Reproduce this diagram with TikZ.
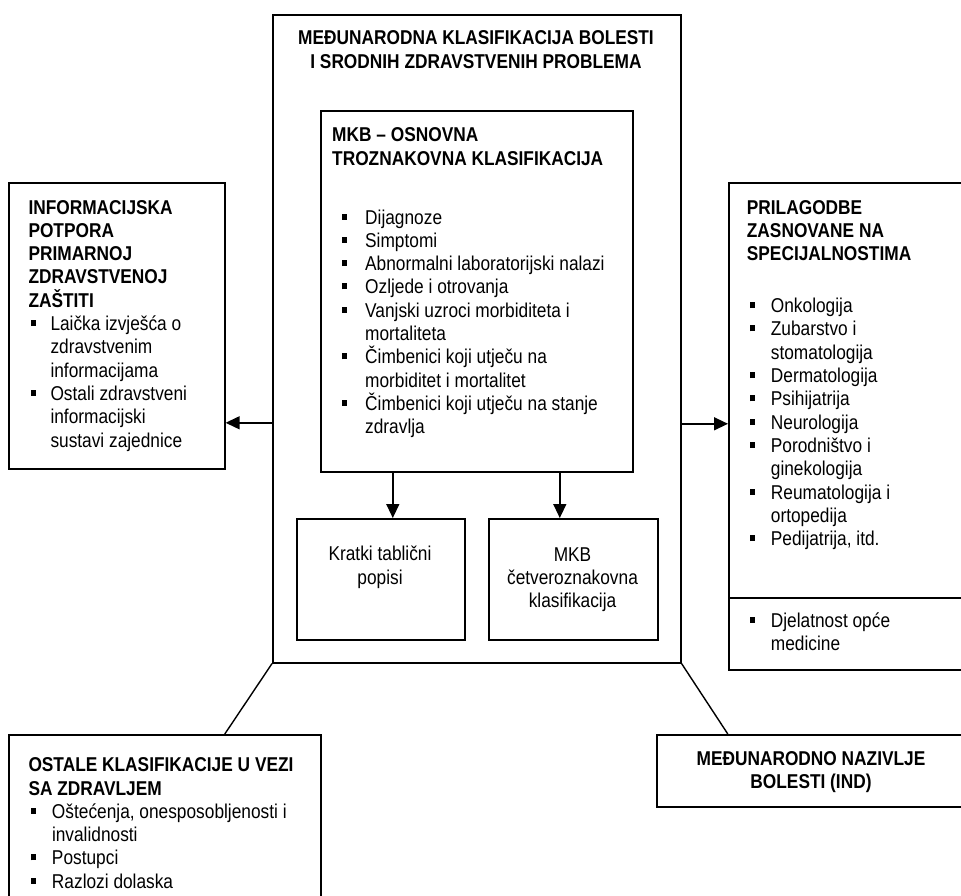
\documentclass[tikz,border=0pt]{standalone}
\usepackage{fontspec}
\setmainfont{Liberation Sans}[FakeStretch=0.865]
\usetikzlibrary{positioning}
\usetikzlibrary{arrows.meta}
\tikzset{
    box/.style = {rectangle, draw=black, line width=1.6pt, anchor=north west, inner sep=0pt},
    txt/.style = {anchor=base west, inner sep=0pt, align=left, font=\fontsize{20}{23.3}\selectfont},
    ctxt/.style = {anchor=base, inner sep=0pt, align=center, font=\fontsize{20}{23.3}\selectfont},
    hdtxt/.style = {ctxt, font=\fontsize{20}{23.3}\selectfont\bfseries},
    edgen/.style = {-{Triangle[width=13pt,length=14pt]}, line width=1.4pt},
    edgel/.style = {line width=1.4pt},
}
\newcommand{\sq}{\rule[4.5pt]{5pt}{6pt}}
\newcommand{\bul}[2]{\makebox[#2][l]{\hspace*{#1}\sq}}
\newcommand{\cont}[1]{\hspace*{#1}}

\begin{document}
\begin{tikzpicture}[x=1pt, y=-1pt]
\useasboundingbox (0,0) rectangle (961,896);
\clip (0,0) rectangle (961,896);
%
\node[box, minimum width=408pt, minimum height=648pt] at (272,14) (main) {};
\node[box, minimum width=312pt, minimum height=361pt] at (320,110) (mkb) {};
\node[box, minimum width=168pt, minimum height=121pt] at (296,518) (kratki) {};
\node[box, minimum width=169pt, minimum height=121pt] at (488,518) (cetvero) {};
\node[box, minimum width=216pt, minimum height=286pt] at (8,182) (info) {};
\node[box, minimum width=240pt, minimum height=415pt] at (728,182) (spec) {};
\node[box, minimum width=240pt, minimum height=72pt] at (728,597) (opca) {};
\node[box, minimum width=312pt, minimum height=200pt] at (8,734) (ostale) {};
\node[box, minimum width=310pt, minimum height=72pt] at (656,734) (ind) {};
%
% text nodes sit on the baseline of their last line
\node[hdtxt] at (476,68.3) (maintxt) {MEĐUNARODNA KLASIFIKACIJA BOLESTI\\I SRODNIH ZDRAVSTVENIH PROBLEMA};
\node[txt] at (332,433.7) (mkbtxt) {\textbf{MKB – OSNOVNA}\\\textbf{TROZNAKOVNA KLASIFIKACIJA}\\[35.7pt]
  \bul{10pt}{33pt}Dijagnoze\\
  \bul{10pt}{33pt}Simptomi\\
  \bul{10pt}{33pt}Abnormalni laboratorijski nalazi\\
  \bul{10pt}{33pt}Ozljede i otrovanja\\
  \bul{10pt}{33pt}Vanjski uzroci morbiditeta i\\
  \cont{33pt}mortaliteta\\
  \bul{10pt}{33pt}Čimbenici koji utječu na\\
  \cont{33pt}morbiditet i mortalitet\\
  \bul{10pt}{33pt}Čimbenici koji utječu na stanje\\
  \cont{33pt}zdravlja};
\node[ctxt] at (380,584) (kratkitxt) {Kratki tablični\\popisi};
\node[ctxt] at (572.5,607.6) (cetverotxt) {MKB\\četveroznakovna\\klasifikacija};
\node[txt] at (28.3,447) (infotxt) {\textbf{INFORMACIJSKA}\\\textbf{POTPORA}\\\textbf{PRIMARNOJ}\\\textbf{ZDRAVSTVENOJ}\\\textbf{ZAŠTITI}\\
  \bul{2.5pt}{22pt}Laička izvješća o\\
  \cont{22pt}zdravstvenim\\
  \cont{22pt}informacijama\\
  \bul{2.5pt}{22pt}Ostali zdravstveni\\
  \cont{22pt}informacijski\\
  \cont{22pt}sustavi zajednice};
\node[txt] at (746.7,545.6) (spectxt) {\textbf{PRILAGODBE}\\\textbf{ZASNOVANE NA}\\\textbf{SPECIJALNOSTIMA}\\[28.7pt]
  \bul{3.5pt}{24pt}Onkologija\\
  \bul{3.5pt}{24pt}Zubarstvo i\\
  \cont{24pt}stomatologija\\
  \bul{3.5pt}{24pt}Dermatologija\\
  \bul{3.5pt}{24pt}Psihijatrija\\
  \bul{3.5pt}{24pt}Neurologija\\
  \bul{3.5pt}{24pt}Porodništvo i\\
  \cont{24pt}ginekologija\\
  \bul{3.5pt}{24pt}Reumatologija i\\
  \cont{24pt}ortopedija\\
  \bul{3.5pt}{24pt}Pedijatrija, itd.};
\node[txt] at (746.7,650.3) (opcatxt) {\bul{3.5pt}{24pt}Djelatnost opće\\\cont{24pt}medicine};
\node[txt] at (28.3,888.2) (ostaletxt) {\textbf{OSTALE KLASIFIKACIJE U VEZI}\\\textbf{SA ZDRAVLJEM}\\
  \bul{2.5pt}{23.5pt}Oštećenja, onesposobljenosti i\\
  \cont{23.5pt}invalidnosti\\
  \bul{2.5pt}{23.5pt}Postupci\\
  \bul{2.5pt}{23.5pt}Razlozi dolaska};
\node[hdtxt] at (811,788.3) (indtxt) {MEĐUNARODNO NAZIVLJE\\BOLESTI (IND)};
%
\draw[edgen] ([yshift=-84pt]main.west) -- ([yshift=-84pt]main.west -| info.east);
\draw[edgen] ([yshift=-85pt]main.east) -- ([yshift=-85pt]main.east -| spec.west);
\draw[edgen] ([xshift=12pt]kratki.north |- mkb.south) -- ([xshift=12pt]kratki.north);
\draw[edgen] ([xshift=-13.5pt]cetvero.north |- mkb.south) -- ([xshift=-13.5pt]cetvero.north);
\draw[edgel] (main.south west) -- ([xshift=60pt]ostale.north);
\draw[edgel] (main.south east) -- ([xshift=-84pt]ind.north);
\end{tikzpicture}
\end{document}
